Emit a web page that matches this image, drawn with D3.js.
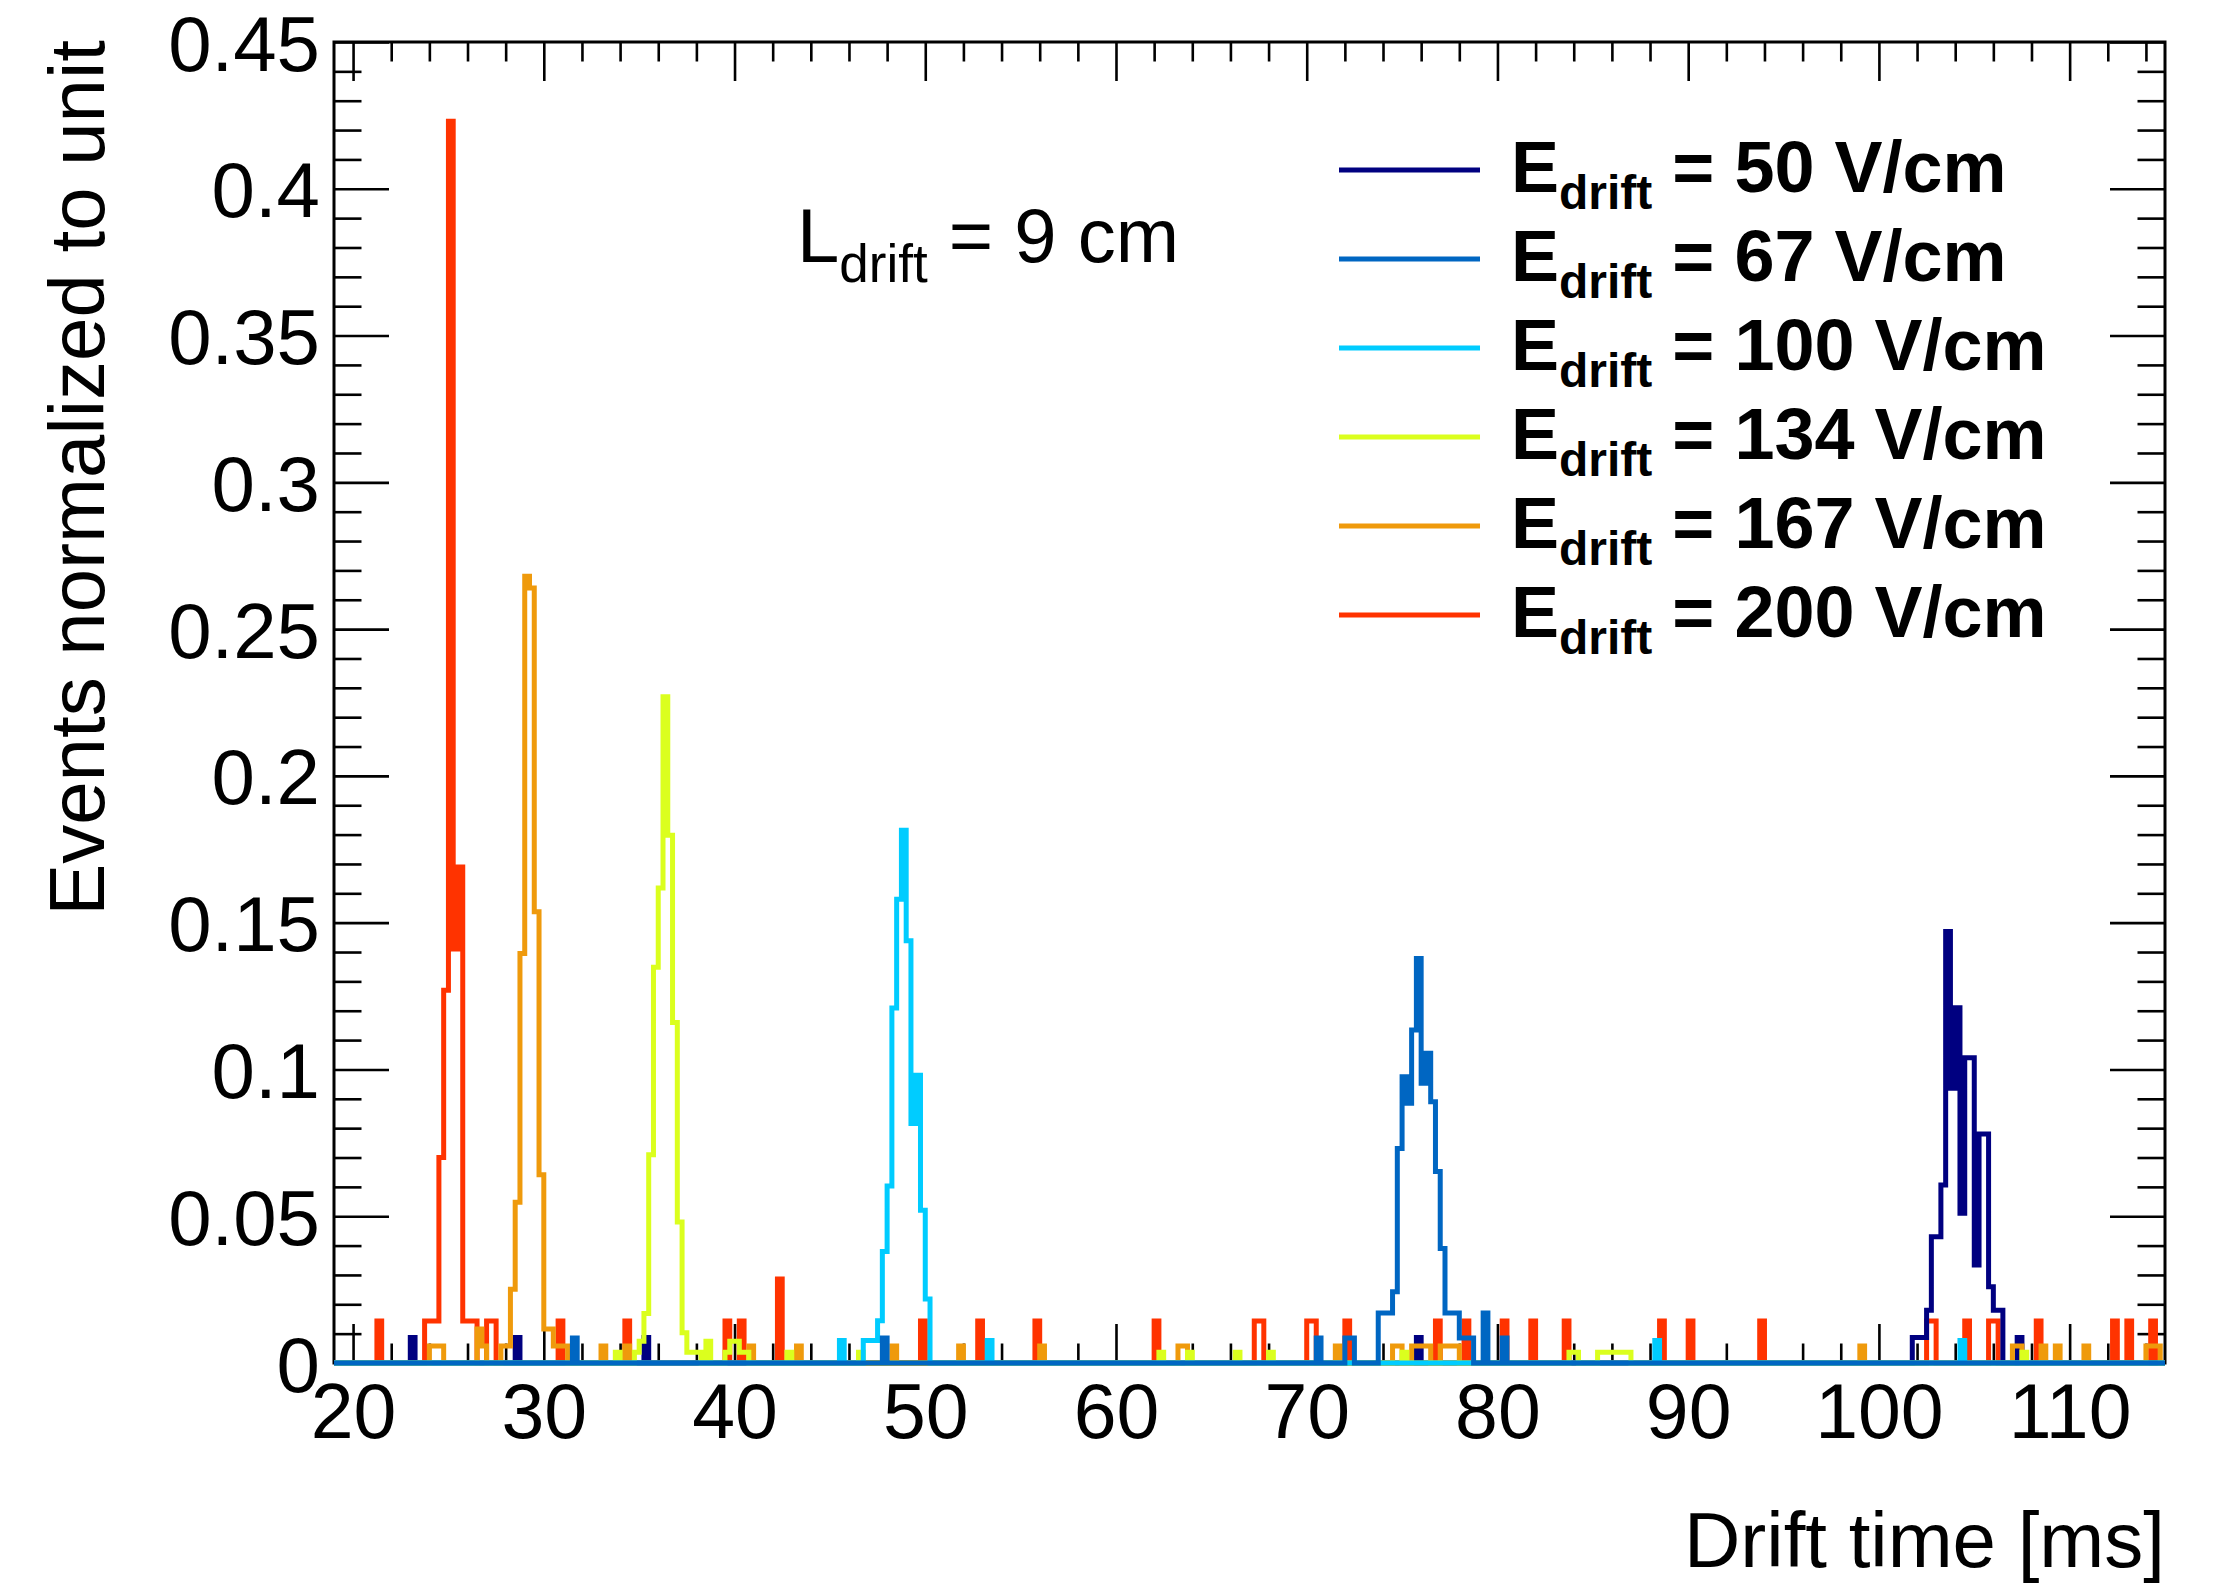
<!DOCTYPE html>
<html>
<head>
<meta charset="utf-8">
<script src="https://cdn.jsdelivr.net/npm/d3@7"></script>
<style>
  html, body { margin: 0; padding: 0; background: #ffffff; }
  svg { display: block; }
</style>
</head>
<body>
<svg id="chart" width="2219" height="1587"></svg>
<script>
// Histogram binning of the drift time axis (ms)
const xMin = 19;
const xMax = 115;
const binWidth = 0.25;

// Axis tick values
const xMajorTicks = [20, 30, 40, 50, 60, 70, 80, 90, 100, 110];
const xMinorTicks = d3.range(20, 115, 2);
const yMajorTicks = [0, 0.05, 0.1, 0.15, 0.2, 0.25, 0.3, 0.35, 0.4, 0.45];
const yMinorTicks = d3.range(0, 0.451, 0.01);

// Drift fields (V/cm), legend order
const fields = ["50", "67", "100", "134", "167", "200"];

// Non-empty bins of each normalised histogram: [bin low edge (ms), fraction of events]
const bins50 = [
  [23.0, 0.0087], [28.5, 0.0087], [35.25, 0.0087], [75.75, 0.0087],
  [101.75, 0.0087], [102.0, 0.0087], [102.25, 0.0087], [102.5, 0.018], [102.75, 0.043],
  [103.0, 0.043], [103.25, 0.0606], [103.5, 0.147], [103.75, 0.0936], [104.0, 0.121],
  [104.25, 0.051], [104.5, 0.104], [104.75, 0.104], [105.0, 0.0334], [105.25, 0.078],
  [105.5, 0.078], [105.75, 0.026], [106.0, 0.018], [106.25, 0.018],
  [107.25, 0.0087]
];

const bins67 = [
  [31.5, 0.0085], [47.75, 0.0085], [70.5, 0.0085], [72.0, 0.0085], [72.25, 0.0085],
  [73.75, 0.017], [74.0, 0.017], [74.25, 0.017], [74.5, 0.0243], [74.75, 0.0731],
  [75.0, 0.0975], [75.25, 0.0885], [75.5, 0.1134], [75.75, 0.1378], [76.0, 0.0953],
  [76.25, 0.1055], [76.5, 0.089], [76.75, 0.0652], [77.0, 0.039], [77.25, 0.017],
  [77.5, 0.017], [77.75, 0.017], [78.0, 0.0085], [78.25, 0.0085], [78.5, 0.0085],
  [79.25, 0.017], [80.25, 0.0085]
];

const bins100 = [
  [45.5, 0.0077], [46.75, 0.0077], [47.0, 0.0077], [47.25, 0.0077],
  [47.5, 0.0144], [47.75, 0.038], [48.0, 0.0603], [48.25, 0.1209], [48.5, 0.158],
  [48.75, 0.1815], [49.0, 0.1438], [49.25, 0.0816], [49.5, 0.098], [49.75, 0.052],
  [50.0, 0.0218],
  [53.25, 0.0077], [88.25, 0.0077], [104.25, 0.0077]
];

const bins134 = [
  [33.75, 0.0037], [34.75, 0.0037], [35.0, 0.0074],
  [35.25, 0.0169], [35.5, 0.0709], [35.75, 0.1348], [36.0, 0.1618], [36.25, 0.227],
  [36.5, 0.1798], [36.75, 0.116], [37.0, 0.048], [37.25, 0.0103],
  [37.5, 0.0037], [37.75, 0.0037], [38.0, 0.0037], [38.5, 0.0074],
  [39.5, 0.0037], [39.75, 0.0074], [40.0, 0.0074], [40.25, 0.0037], [40.5, 0.0037],
  [42.75, 0.0037], [46.5, 0.0037], [62.25, 0.0037], [63.75, 0.0037], [66.25, 0.0037],
  [68.0, 0.0037], [75.0, 0.0037], [83.75, 0.0037], [84.0, 0.0037],
  [85.25, 0.0037], [85.5, 0.0037], [85.75, 0.0037], [86.0, 0.0037], [86.25, 0.0037],
  [86.5, 0.0037], [86.75, 0.0037], [107.5, 0.0037]
];

const bins167 = [
  [24.0, 0.0058], [24.25, 0.0058], [24.5, 0.0058], [26.5, 0.0116], [26.75, 0.0058],
  [27.75, 0.0058], [28.0, 0.0058],
  [28.25, 0.0251], [28.5, 0.0548], [28.75, 0.1395], [29.0, 0.268], [29.25, 0.264],
  [29.5, 0.1537], [29.75, 0.0641],
  [30.0, 0.0116], [30.25, 0.0116], [30.5, 0.0058], [30.75, 0.0058], [31.0, 0.0058],
  [33.0, 0.0058], [34.25, 0.0058], [40.75, 0.0058], [43.25, 0.0058], [48.25, 0.0058],
  [51.75, 0.0058], [56.0, 0.0058], [63.25, 0.0058], [63.5, 0.0058], [71.5, 0.0058],
  [74.5, 0.0058], [74.75, 0.0058], [75.5, 0.0058], [75.75, 0.0058], [76.0, 0.0058],
  [76.25, 0.0058], [77.0, 0.0058], [77.25, 0.0058], [77.5, 0.0058], [77.75, 0.0058],
  [99.0, 0.0058], [107.0, 0.0058], [107.25, 0.0058], [108.5, 0.0058], [109.25, 0.0058],
  [110.75, 0.0058], [114.0, 0.0058], [114.25, 0.0058], [114.5, 0.0058]
];

const bins200 = [
  [21.25, 0.0143], [23.75, 0.0143], [24.0, 0.0143], [24.25, 0.0143],
  [24.5, 0.070], [24.75, 0.127], [25.0, 0.423], [25.25, 0.141], [25.5, 0.169],
  [25.75, 0.0143], [26.0, 0.0143], [26.25, 0.0143], [27.0, 0.0143], [27.25, 0.0143],
  [30.75, 0.0143], [34.25, 0.0143], [39.5, 0.0143], [40.25, 0.0143], [42.25, 0.0286],
  [49.75, 0.0143], [52.75, 0.0143], [55.75, 0.0143], [62.0, 0.0143],
  [67.25, 0.0143], [67.5, 0.0143], [70.0, 0.0143], [70.25, 0.0143], [72.0, 0.0143],
  [76.75, 0.0143], [78.25, 0.0143], [80.25, 0.0143], [81.75, 0.0143], [83.5, 0.0143],
  [88.5, 0.0143], [90.0, 0.0143], [93.75, 0.0143], [102.5, 0.0143], [102.75, 0.0143],
  [104.5, 0.0143], [105.75, 0.0143], [106.0, 0.0143], [108.25, 0.0143],
  [112.25, 0.0143], [113.0, 0.0143], [114.25, 0.0143]
];

// Line colours per field, legend order
const fieldColors = ["#000080", "#0066c2", "#00ccff", "#dbff1e", "#ef9a0c", "#ff3300"];

// ---------------------------------------------------------------------------
const svg = d3.select("#chart");
const W = 2219, H = 1587;
const frame = { left: 334, right: 2165, top: 42, bottom: 1363 };
const font = "'Liberation Sans', Arial, Helvetica, sans-serif";

svg.append("rect").attr("width", W).attr("height", H).attr("fill", "#ffffff");

const x = d3.scaleLinear().domain([xMin, xMax]).range([frame.left, frame.right]);
const y = d3.scaleLinear().domain([0, 0.45]).range([frame.bottom, frame.top]);

// Axes: ticks point into the frame on all four sides
const xTickLen = 39, yTickLen = 55;

function styleAxis(g, width) {
  g.select(".domain").remove();
  g.selectAll(".tick line").attr("stroke", "#000").attr("stroke-width", width);
}

const gAxes = svg.append("g");

const bottomMajor = gAxes.append("g").attr("transform", `translate(0,${frame.bottom})`)
  .call(d3.axisBottom(x).tickValues(xMajorTicks).tickSize(-xTickLen).tickFormat(d3.format("d")));
styleAxis(bottomMajor, 2.6);
bottomMajor.selectAll(".tick text")
  .attr("y", 75).attr("dy", null)
  .attr("font-family", font).attr("font-size", 77).attr("fill", "#000");

const bottomMinor = gAxes.append("g").attr("transform", `translate(0,${frame.bottom})`)
  .call(d3.axisBottom(x).tickValues(xMinorTicks.filter(v => v % 10 !== 0)).tickSize(-xTickLen / 2).tickFormat(""));
styleAxis(bottomMinor, 2.6);

const topMajor = gAxes.append("g").attr("transform", `translate(0,${frame.top})`)
  .call(d3.axisTop(x).tickValues(xMajorTicks).tickSize(-xTickLen).tickFormat(""));
styleAxis(topMajor, 2.6);
const topMinor = gAxes.append("g").attr("transform", `translate(0,${frame.top})`)
  .call(d3.axisTop(x).tickValues(xMinorTicks.filter(v => v % 10 !== 0)).tickSize(-xTickLen / 2).tickFormat(""));
styleAxis(topMinor, 2.6);

const yLabel = v => String(+v.toFixed(2));
const leftMajor = gAxes.append("g").attr("transform", `translate(${frame.left},0)`)
  .call(d3.axisLeft(y).tickValues(yMajorTicks).tickSize(-yTickLen).tickPadding(14).tickFormat(yLabel));
styleAxis(leftMajor, 2.6);
leftMajor.selectAll(".tick text")
  .attr("dy", "0.36em")
  .attr("font-family", font).attr("font-size", 78).attr("fill", "#000");
const yMinorOnly = yMinorTicks.filter(v => Math.abs(v / 0.05 - Math.round(v / 0.05)) > 1e-6);
const leftMinor = gAxes.append("g").attr("transform", `translate(${frame.left},0)`)
  .call(d3.axisLeft(y).tickValues(yMinorOnly).tickSize(-yTickLen / 2).tickFormat(""));
styleAxis(leftMinor, 2.6);

const rightMajor = gAxes.append("g").attr("transform", `translate(${frame.right},0)`)
  .call(d3.axisRight(y).tickValues(yMajorTicks).tickSize(-yTickLen).tickFormat(""));
styleAxis(rightMajor, 2.6);
const rightMinor = gAxes.append("g").attr("transform", `translate(${frame.right},0)`)
  .call(d3.axisRight(y).tickValues(yMinorOnly).tickSize(-yTickLen / 2).tickFormat(""));
styleAxis(rightMinor, 2.6);

// Frame
svg.append("rect")
  .attr("x", frame.left).attr("y", frame.top)
  .attr("width", frame.right - frame.left).attr("height", frame.bottom - frame.top)
  .attr("fill", "none").attr("stroke", "#000").attr("stroke-width", 3);

// Histograms, drawn as step outlines
const nBins = Math.round((xMax - xMin) / binWidth);
function toContents(bins) {
  const arr = new Array(nBins).fill(0);
  bins.forEach(([lo, v]) => { arr[Math.round((lo - xMin) / binWidth)] = v; });
  return arr;
}
const stepLine = d3.line()
  .x(d => x(d[0]))
  .y(d => y(d[1]))
  .curve(d3.curveStepAfter);

const histByField = { "50": bins50, "67": bins67, "100": bins100, "134": bins134, "167": bins167, "200": bins200 };
const drawOrder = ["200", "50", "167", "134", "100", "67"];

const gHist = svg.append("g");
drawOrder.forEach(f => {
  const contents = toContents(histByField[f]);
  const pts = contents.map((v, i) => [xMin + i * binWidth, v]);
  pts.push([xMax, contents[nBins - 1]]);
  gHist.append("path")
    .datum(pts)
    .attr("d", stepLine)
    .attr("fill", "none")
    .attr("stroke", fieldColors[fields.indexOf(f)])
    .attr("stroke-width", 5)
    .attr("stroke-linejoin", "miter");
});

// Axis titles
svg.append("text")
  .attr("transform", `translate(104,${frame.top - 2}) rotate(-90)`)
  .attr("text-anchor", "end")
  .attr("font-family", font).attr("font-size", 78).attr("fill", "#000")
  .text("Events normalized to unit");

svg.append("text")
  .attr("x", frame.right).attr("y", 1567)
  .attr("text-anchor", "end")
  .attr("font-family", font).attr("font-size", 78).attr("fill", "#000")
  .text("Drift time [ms]");

// Drift length annotation
const note = svg.append("text")
  .attr("x", 797).attr("y", 262)
  .attr("font-family", font).attr("font-size", 76).attr("fill", "#000");
note.append("tspan").text("L");
note.append("tspan").attr("dy", 20).attr("font-size", 53).text("drift");
note.append("tspan").attr("dy", -20).text(" = 9 cm");

// Legend
const legend = svg.append("g");
fields.forEach((f, i) => {
  const rowY = 170 + i * 89;
  legend.append("line")
    .attr("x1", 1339).attr("x2", 1480)
    .attr("y1", rowY).attr("y2", rowY)
    .attr("stroke", fieldColors[i]).attr("stroke-width", 5);
  const t = legend.append("text")
    .attr("x", 1511).attr("y", rowY + 22)
    .attr("font-family", font).attr("font-weight", "bold")
    .attr("font-size", 72).attr("fill", "#000");
  t.append("tspan").text("E");
  t.append("tspan").attr("dy", 17).attr("font-size", 48).text("drift");
  t.append("tspan").attr("dy", -17).text(` = ${f} V/cm`);
});
</script>
</body>
</html>
